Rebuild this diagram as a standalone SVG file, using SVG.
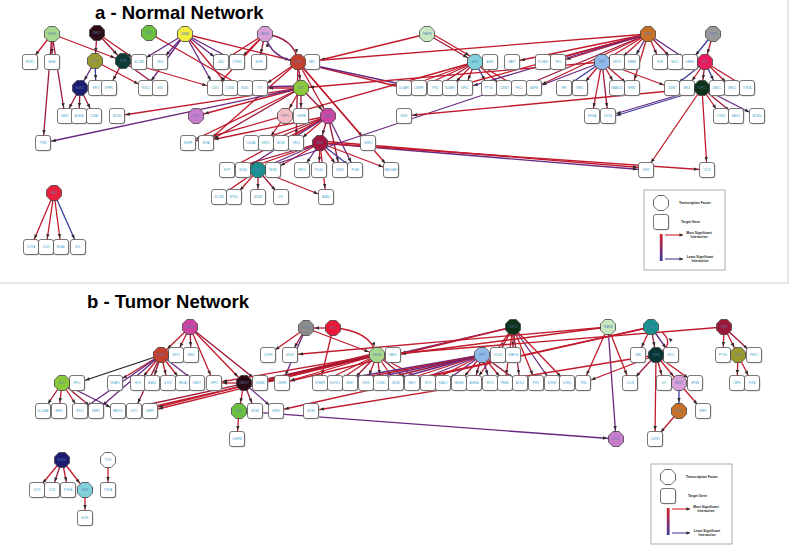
<svg xmlns="http://www.w3.org/2000/svg" xmlns:xlink="http://www.w3.org/1999/xlink" width="792" height="549" viewBox="0 0 792 549">
<defs>
<style>
.title{font-family:"Liberation Sans",Arial,sans-serif;font-weight:bold;font-size:18.5px;fill:#000}
#connectors line,#connectors path{fill:none;stroke-width:1.3;marker-end:url(#ah)}
.r{stroke:#c01a2c}.d{stroke:#9e1636}.p{stroke:#682880}.b{stroke:#3b3d9e}.k{stroke:#1a1a1a}
.gene text{font-family:"Liberation Sans",Arial,sans-serif;font-size:2.6px;text-anchor:middle;fill:#39a0c9}
.tf text{font-family:"Liberation Sans",Arial,sans-serif;font-size:2.6px;text-anchor:middle;fill:#5b7fb5}
.lg{font-family:"Liberation Sans",Arial,sans-serif;font-weight:bold;font-size:3.3px;fill:#222}
.lgc{font-family:"Liberation Sans",Arial,sans-serif;font-weight:bold;font-size:3.3px;fill:#222;text-anchor:middle}
</style>
<marker id="ah" markerUnits="userSpaceOnUse" orient="auto" refX="9" refY="0" markerWidth="10" markerHeight="6" overflow="visible"><path d="M-4,-1.7 L0,0 L-4,1.7 Z" fill="#2a2a2a"/></marker>
<marker id="lah" markerUnits="userSpaceOnUse" orient="auto" refX="0" refY="0" markerWidth="6" markerHeight="6" overflow="visible"><path d="M-3.5,-1.7 L0,0 L-3.5,1.7 Z" fill="#2a2a2a"/></marker>
<polygon id="oc" points="-3.1,-7.5 3.1,-7.5 7.5,-3.1 7.5,3.1 3.1,7.5 -3.1,7.5 -7.5,3.1 -7.5,-3.1" stroke="#444" stroke-width="0.8"/>
<g id="bx"><rect x="-6.7" y="-6.7" width="15" height="15" rx="2.5" fill="#aaa"/><rect x="-7.5" y="-7.5" width="15" height="15" rx="2.5" fill="#fff" stroke="#555" stroke-width="0.8"/></g>
<linearGradient id="grad" x1="0" y1="0" x2="0" y2="1"><stop offset="0" stop-color="#e0202a"/><stop offset="1" stop-color="#3a3aa0"/></linearGradient>
</defs>
<rect width="792" height="549" fill="#fff"/>
<rect x="-1" y="-1" width="789" height="284" fill="none" stroke="#cfcfcf" stroke-width="1"/>
<text class="title" x="95" y="18.5">a - Normal Network</text>
<text class="title" x="87" y="307.5">b - Tumor Network</text>

<g id="connectors">
<g id="edges-a">
<line class="r" x1="52" y1="34" x2="30" y2="62"/>
<line class="d" x1="52" y1="34" x2="52" y2="62"/>
<line class="d" x1="52" y1="34" x2="43" y2="143"/>
<line class="d" x1="52" y1="34" x2="65" y2="116"/>
<line class="r" x1="52" y1="34" x2="123" y2="61"/>
<line class="d" x1="97" y1="33" x2="95" y2="61"/>
<line class="d" x1="97" y1="33" x2="123" y2="61"/>
<line class="r" x1="97" y1="33" x2="139" y2="62"/>
<line class="r" x1="149" y1="33" x2="245" y2="88"/>
<line class="p" x1="185" y1="34" x2="160" y2="62"/>
<line class="p" x1="185" y1="34" x2="139" y2="62"/>
<line class="p" x1="185" y1="34" x2="146" y2="88"/>
<line class="p" x1="185" y1="34" x2="221" y2="62"/>
<line class="p" x1="185" y1="34" x2="215" y2="88"/>
<line class="r" x1="185" y1="34" x2="298" y2="62"/>
<line class="p" x1="185" y1="34" x2="237" y2="62"/>
<line class="r" x1="185" y1="34" x2="230" y2="88"/>
<line class="p" x1="95" y1="61" x2="80" y2="88"/>
<line class="b" x1="95" y1="61" x2="96" y2="88"/>
<line class="r" x1="95" y1="61" x2="146" y2="88"/>
<line class="d" x1="123" y1="61" x2="109" y2="88"/>
<line class="r" x1="123" y1="61" x2="215" y2="88"/>
<line class="d" x1="123" y1="61" x2="160" y2="88"/>
<line class="d" x1="80" y1="88" x2="65" y2="116"/>
<line class="d" x1="80" y1="88" x2="79" y2="116"/>
<line class="d" x1="80" y1="88" x2="94" y2="116"/>
<line class="d" x1="265" y1="34" x2="259" y2="62"/>
<line class="r" x1="265" y1="34" x2="221" y2="62"/>
<line class="r" x1="265" y1="34" x2="237" y2="62"/>
<path class="d" d="M265,34 Q295,38 298,62"/>
<path class="p" d="M298,62 Q270,58 265,34"/>
<line class="r" x1="265" y1="34" x2="215" y2="88"/>
<line class="d" x1="298" y1="62" x2="312" y2="62"/>
<line class="r" x1="298" y1="62" x2="301" y2="88"/>
<line class="r" x1="298" y1="62" x2="328" y2="116"/>
<line class="r" x1="298" y1="62" x2="368" y2="143"/>
<line class="r" x1="298" y1="62" x2="404" y2="88"/>
<line class="p" x1="298" y1="62" x2="419" y2="88"/>
<line class="r" x1="298" y1="62" x2="260" y2="88"/>
<line class="r" x1="298" y1="62" x2="391" y2="170"/>
<line class="r" x1="298" y1="62" x2="206" y2="143"/>
<line class="d" x1="298" y1="62" x2="296" y2="143"/>
<line class="r" x1="301" y1="88" x2="260" y2="88"/>
<line class="p" x1="301" y1="86" x2="245" y2="87"/>
<line class="r" x1="301" y1="88" x2="285" y2="116"/>
<line class="d" x1="301" y1="88" x2="301" y2="116"/>
<line class="r" x1="301" y1="88" x2="196" y2="116"/>
<line class="r" x1="301" y1="88" x2="117" y2="116"/>
<line class="p" x1="301" y1="88" x2="43" y2="143"/>
<line class="r" x1="301" y1="88" x2="188" y2="143"/>
<line class="d" x1="301" y1="88" x2="206" y2="143"/>
<line class="d" x1="301" y1="88" x2="328" y2="116"/>
<line class="r" x1="285" y1="116" x2="266" y2="143"/>
<line class="r" x1="328" y1="116" x2="206" y2="141"/>
<line class="r" x1="328" y1="116" x2="251" y2="143"/>
<line class="d" x1="328" y1="116" x2="266" y2="143"/>
<line class="r" x1="328" y1="116" x2="281" y2="143"/>
<line class="r" x1="328" y1="116" x2="296" y2="143"/>
<line class="d" x1="328" y1="116" x2="320" y2="143"/>
<line class="r" x1="328" y1="116" x2="227" y2="170"/>
<line class="p" x1="328" y1="116" x2="243" y2="170"/>
<line class="p" x1="328" y1="116" x2="355" y2="170"/>
<line class="d" x1="328" y1="116" x2="340" y2="170"/>
<line class="d" x1="320" y1="143" x2="227" y2="170"/>
<line class="r" x1="320" y1="143" x2="243" y2="170"/>
<line class="p" x1="320" y1="143" x2="258" y2="170"/>
<line class="r" x1="320" y1="143" x2="273" y2="170"/>
<line class="p" x1="320" y1="143" x2="302" y2="170"/>
<line class="r" x1="320" y1="143" x2="319" y2="170"/>
<line class="r" x1="320" y1="143" x2="340" y2="170"/>
<line class="b" x1="320" y1="143" x2="355" y2="170"/>
<line class="r" x1="320" y1="143" x2="391" y2="170"/>
<line class="r" x1="320" y1="143" x2="326" y2="197"/>
<line class="p" x1="320" y1="143" x2="646" y2="170"/>
<line class="r" x1="320" y1="141" x2="646" y2="168"/>
<line class="r" x1="320" y1="143" x2="707" y2="170"/>
<line class="r" x1="258" y1="170" x2="219" y2="197"/>
<line class="r" x1="258" y1="170" x2="234" y2="197"/>
<line class="d" x1="258" y1="170" x2="258" y2="197"/>
<line class="d" x1="258" y1="170" x2="281" y2="197"/>
<line class="r" x1="258" y1="170" x2="326" y2="197"/>
<line class="p" x1="258" y1="170" x2="504" y2="88"/>
<line class="r" x1="427" y1="34" x2="312" y2="62"/>
<line class="d" x1="427" y1="34" x2="475" y2="62"/>
<line class="r" x1="429" y1="32" x2="477" y2="60"/>
<line class="r" x1="475" y1="62" x2="404" y2="88"/>
<line class="r" x1="475" y1="62" x2="419" y2="88"/>
<line class="d" x1="475" y1="62" x2="435" y2="88"/>
<line class="r" x1="475" y1="62" x2="450" y2="88"/>
<line class="r" x1="475" y1="62" x2="465" y2="88"/>
<line class="b" x1="475" y1="62" x2="489" y2="88"/>
<line class="r" x1="475" y1="62" x2="504" y2="88"/>
<line class="r" x1="475" y1="62" x2="519" y2="88"/>
<line class="r" x1="475" y1="62" x2="188" y2="143"/>
<line class="r" x1="648" y1="34" x2="558" y2="62"/>
<line class="d" x1="648" y1="34" x2="543" y2="62"/>
<line class="r" x1="648" y1="34" x2="512" y2="62"/>
<line class="r" x1="648" y1="34" x2="602" y2="62"/>
<line class="r" x1="648" y1="34" x2="617" y2="62"/>
<line class="p" x1="648" y1="34" x2="632" y2="62"/>
<line class="r" x1="648" y1="34" x2="660" y2="62"/>
<line class="d" x1="648" y1="34" x2="675" y2="62"/>
<line class="p" x1="648" y1="34" x2="690" y2="62"/>
<line class="r" x1="648" y1="34" x2="632" y2="88"/>
<line class="r" x1="648" y1="34" x2="534" y2="88"/>
<line class="d" x1="648" y1="34" x2="519" y2="88"/>
<line class="r" x1="648" y1="34" x2="450" y2="88"/>
<line class="p" x1="648" y1="34" x2="465" y2="88"/>
<line class="r" x1="648" y1="34" x2="298" y2="62"/>
<line class="r" x1="602" y1="62" x2="617" y2="88"/>
<line class="r" x1="602" y1="62" x2="632" y2="88"/>
<line class="r" x1="602" y1="62" x2="592" y2="116"/>
<line class="d" x1="602" y1="62" x2="608" y2="116"/>
<line class="r" x1="602" y1="62" x2="672" y2="88"/>
<line class="p" x1="602" y1="62" x2="534" y2="88"/>
<line class="b" x1="602" y1="62" x2="564" y2="88"/>
<line class="r" x1="602" y1="62" x2="580" y2="88"/>
<line class="r" x1="602" y1="62" x2="301" y2="88"/>
<line class="r" x1="713" y1="34" x2="705" y2="62"/>
<line class="b" x1="713" y1="34" x2="690" y2="62"/>
<line class="b" x1="705" y1="62" x2="672" y2="88"/>
<line class="r" x1="705" y1="62" x2="687" y2="88"/>
<line class="d" x1="705" y1="62" x2="702" y2="88"/>
<line class="b" x1="705" y1="62" x2="717" y2="88"/>
<line class="r" x1="705" y1="62" x2="732" y2="88"/>
<line class="r" x1="705" y1="62" x2="747" y2="88"/>
<line class="r" x1="702" y1="88" x2="721" y2="116"/>
<line class="d" x1="702" y1="88" x2="736" y2="116"/>
<line class="p" x1="702" y1="88" x2="757" y2="116"/>
<line class="r" x1="702" y1="88" x2="646" y2="170"/>
<line class="r" x1="702" y1="88" x2="707" y2="170"/>
<line class="p" x1="702" y1="88" x2="608" y2="116"/>
<line class="b" x1="700" y1="90" x2="608" y2="118"/>
<line class="r" x1="702" y1="88" x2="404" y2="116"/>
<line class="r" x1="54" y1="193" x2="31" y2="247"/>
<line class="r" x1="54" y1="193" x2="46" y2="247"/>
<line class="r" x1="54" y1="193" x2="61" y2="247"/>
<line class="b" x1="54" y1="193" x2="78" y2="247"/>
</g>
<g id="edges-b">
<line class="r" x1="190" y1="327" x2="161" y2="355"/>
<line class="r" x1="190" y1="327" x2="176" y2="355"/>
<line class="d" x1="190" y1="327" x2="191" y2="355"/>
<line class="r" x1="190" y1="327" x2="244" y2="383"/>
<line class="d" x1="190" y1="327" x2="260" y2="383"/>
<line class="r" x1="190" y1="327" x2="214" y2="383"/>
<line class="k" x1="161" y1="355" x2="77" y2="383"/>
<line class="r" x1="161" y1="355" x2="115" y2="383"/>
<line class="r" x1="161" y1="355" x2="138" y2="383"/>
<line class="d" x1="161" y1="355" x2="152" y2="383"/>
<line class="r" x1="161" y1="355" x2="168" y2="383"/>
<line class="r" x1="161" y1="355" x2="183" y2="383"/>
<line class="p" x1="161" y1="355" x2="197" y2="383"/>
<line class="p" x1="161" y1="355" x2="96" y2="411"/>
<line class="p" x1="161" y1="355" x2="80" y2="411"/>
<line class="d" x1="161" y1="355" x2="134" y2="411"/>
<line class="d" x1="62" y1="383" x2="43" y2="411"/>
<line class="r" x1="62" y1="383" x2="59" y2="411"/>
<line class="r" x1="62" y1="383" x2="80" y2="411"/>
<line class="d" x1="62" y1="383" x2="96" y2="411"/>
<line class="p" x1="62" y1="383" x2="118" y2="411"/>
<line class="r" x1="306" y1="328" x2="268" y2="355"/>
<line class="d" x1="306" y1="328" x2="290" y2="355"/>
<line class="r" x1="306" y1="328" x2="377" y2="355"/>
<line class="p" x1="306" y1="328" x2="282" y2="383"/>
<line class="r" x1="333" y1="328" x2="306" y2="328"/>
<line class="r" x1="333" y1="328" x2="320" y2="383"/>
<path class="r" d="M333,328 Q370,330 377,355"/>
<line class="r" x1="377" y1="355" x2="393" y2="355"/>
<line class="r" x1="377" y1="355" x2="320" y2="383"/>
<line class="r" x1="377" y1="355" x2="335" y2="383"/>
<line class="d" x1="377" y1="355" x2="350" y2="383"/>
<line class="r" x1="377" y1="355" x2="366" y2="383"/>
<line class="r" x1="377" y1="355" x2="381" y2="383"/>
<line class="r" x1="377" y1="355" x2="396" y2="383"/>
<line class="d" x1="377" y1="355" x2="412" y2="383"/>
<line class="r" x1="377" y1="355" x2="428" y2="383"/>
<line class="r" x1="377" y1="355" x2="282" y2="383"/>
<line class="r" x1="377" y1="355" x2="260" y2="383"/>
<line class="r" x1="377" y1="355" x2="214" y2="383"/>
<line class="r" x1="377" y1="355" x2="150" y2="411"/>
<line class="r" x1="376" y1="353" x2="150" y2="409"/>
<line class="r" x1="377" y1="355" x2="134" y2="411"/>
<line class="d" x1="377" y1="355" x2="118" y2="411"/>
<line class="d" x1="244" y1="383" x2="260" y2="383"/>
<line class="r" x1="244" y1="383" x2="239" y2="411"/>
<line class="d" x1="244" y1="383" x2="255" y2="411"/>
<line class="p" x1="244" y1="383" x2="276" y2="411"/>
<line class="r" x1="244" y1="383" x2="214" y2="383"/>
<line class="r" x1="239" y1="411" x2="237" y2="439"/>
<line class="p" x1="239" y1="411" x2="616" y2="439"/>
<line class="r" x1="513" y1="327" x2="498" y2="355"/>
<line class="d" x1="513" y1="327" x2="513" y2="355"/>
<line class="p" x1="513" y1="327" x2="393" y2="355"/>
<line class="r" x1="513" y1="327" x2="474" y2="383"/>
<line class="r" x1="513" y1="327" x2="505" y2="383"/>
<line class="d" x1="513" y1="327" x2="520" y2="383"/>
<line class="r" x1="513" y1="327" x2="536" y2="383"/>
<line class="p" x1="513" y1="327" x2="552" y2="383"/>
<line class="r" x1="513" y1="327" x2="567" y2="383"/>
<line class="r" x1="513" y1="327" x2="282" y2="383"/>
<line class="p" x1="482" y1="355" x2="320" y2="383"/>
<line class="r" x1="482" y1="355" x2="335" y2="383"/>
<line class="p" x1="482" y1="355" x2="350" y2="383"/>
<line class="d" x1="482" y1="355" x2="366" y2="383"/>
<line class="p" x1="482" y1="355" x2="381" y2="383"/>
<line class="r" x1="482" y1="355" x2="396" y2="383"/>
<line class="p" x1="482" y1="355" x2="412" y2="383"/>
<line class="r" x1="482" y1="355" x2="428" y2="383"/>
<line class="p" x1="482" y1="355" x2="443" y2="383"/>
<line class="r" x1="482" y1="355" x2="459" y2="383"/>
<line class="d" x1="482" y1="355" x2="474" y2="383"/>
<line class="p" x1="482" y1="355" x2="490" y2="383"/>
<line class="r" x1="482" y1="355" x2="505" y2="383"/>
<line class="d" x1="482" y1="355" x2="520" y2="383"/>
<line class="r" x1="608" y1="327" x2="630" y2="383"/>
<line class="p" x1="608" y1="327" x2="616" y2="439"/>
<line class="r" x1="608" y1="327" x2="583" y2="383"/>
<line class="r" x1="608" y1="327" x2="393" y2="355"/>
<line class="r" x1="608" y1="327" x2="290" y2="355"/>
<line class="r" x1="651" y1="327" x2="638" y2="355"/>
<line class="d" x1="651" y1="327" x2="656" y2="355"/>
<line class="p" x1="651" y1="327" x2="671" y2="355"/>
<line class="r" x1="651" y1="327" x2="396" y2="383"/>
<line class="r" x1="651" y1="327" x2="276" y2="411"/>
<path class="r" d="M656,355 Q676,345 662,332"/>
<line class="d" x1="656" y1="355" x2="630" y2="383"/>
<line class="r" x1="656" y1="355" x2="664" y2="383"/>
<line class="r" x1="656" y1="355" x2="679" y2="383"/>
<line class="r" x1="656" y1="355" x2="695" y2="383"/>
<line class="r" x1="656" y1="355" x2="655" y2="439"/>
<line class="r" x1="656" y1="355" x2="311" y2="411"/>
<line class="r" x1="656" y1="355" x2="583" y2="383"/>
<line class="b" x1="679" y1="383" x2="679" y2="411"/>
<line class="r" x1="679" y1="383" x2="703" y2="411"/>
<line class="r" x1="679" y1="411" x2="655" y2="439"/>
<line class="r" x1="724" y1="327" x2="723" y2="355"/>
<line class="r" x1="724" y1="327" x2="738" y2="355"/>
<line class="d" x1="724" y1="327" x2="754" y2="355"/>
<line class="r" x1="724" y1="327" x2="377" y2="355"/>
<line class="r" x1="738" y1="355" x2="737" y2="383"/>
<line class="r" x1="738" y1="355" x2="752" y2="383"/>
<line class="r" x1="62" y1="460" x2="37" y2="490"/>
<line class="d" x1="62" y1="460" x2="52" y2="490"/>
<line class="r" x1="62" y1="460" x2="68" y2="490"/>
<line class="r" x1="62" y1="460" x2="85" y2="490"/>
<line class="r" x1="85" y1="490" x2="85" y2="518"/>
<line class="r" x1="108" y1="460" x2="108" y2="490"/>
</g>
</g>

<g id="nodes-a">
<g id="a-g1" class="gene" transform="translate(30,62)"><use href="#bx"/><text y="1">PDZK1</text></g>
<g id="a-g2" class="gene" transform="translate(52,62)"><use href="#bx"/><text y="1">AGR3</text></g>
<g id="a-g3" class="gene" transform="translate(139,62)"><use href="#bx"/><text y="1">SLC7A2</text></g>
<g id="a-g4" class="gene" transform="translate(160,62)"><use href="#bx"/><text y="1">TBX3</text></g>
<g id="a-g5" class="gene" transform="translate(221,62)"><use href="#bx"/><text y="1">CA12</text></g>
<g id="a-g6" class="gene" transform="translate(237,62)"><use href="#bx"/><text y="1">CYP4B1</text></g>
<g id="a-g7" class="gene" transform="translate(259,62)"><use href="#bx"/><text y="1">MLPH</text></g>
<g id="a-g8" class="gene" transform="translate(312,62)"><use href="#bx"/><text y="1">NAT1</text></g>
<g id="a-g9" class="gene" transform="translate(490,62)"><use href="#bx"/><text y="1">AGR2</text></g>
<g id="a-g10" class="gene" transform="translate(512,62)"><use href="#bx"/><text y="1">MAPT</text></g>
<g id="a-g11" class="gene" transform="translate(543,62)"><use href="#bx"/><text y="1">SCUBE2</text></g>
<g id="a-g12" class="gene" transform="translate(558,62)"><use href="#bx"/><text y="1">TFF1</text></g>
<g id="a-g13" class="gene" transform="translate(617,62)"><use href="#bx"/><text y="1">KRT18</text></g>
<g id="a-g14" class="gene" transform="translate(632,62)"><use href="#bx"/><text y="1">ERBB4</text></g>
<g id="a-g15" class="gene" transform="translate(660,62)"><use href="#bx"/><text y="1">PGR</text></g>
<g id="a-g16" class="gene" transform="translate(675,62)"><use href="#bx"/><text y="1">MUC1</text></g>
<g id="a-g17" class="gene" transform="translate(690,62)"><use href="#bx"/><text y="1">GREB1</text></g>
<g id="a-g18" class="gene" transform="translate(96,88)"><use href="#bx"/><text y="1">KRT5</text></g>
<g id="a-g19" class="gene" transform="translate(109,88)"><use href="#bx"/><text y="1">SFRP1</text></g>
<g id="a-g20" class="gene" transform="translate(146,88)"><use href="#bx"/><text y="1">FOXC1</text></g>
<g id="a-g21" class="gene" transform="translate(160,88)"><use href="#bx"/><text y="1">EN1</text></g>
<g id="a-g22" class="gene" transform="translate(215,88)"><use href="#bx"/><text y="1">CDK1</text></g>
<g id="a-g23" class="gene" transform="translate(230,88)"><use href="#bx"/><text y="1">CCNB2</text></g>
<g id="a-g24" class="gene" transform="translate(245,88)"><use href="#bx"/><text y="1">BUB1</text></g>
<g id="a-g25" class="gene" transform="translate(260,88)"><use href="#bx"/><text y="1">TTK</text></g>
<g id="a-g26" class="gene" transform="translate(404,88)"><use href="#bx"/><text y="1">DLGAP5</text></g>
<g id="a-g27" class="gene" transform="translate(419,88)"><use href="#bx"/><text y="1">CENPF</text></g>
<g id="a-g28" class="gene" transform="translate(435,88)"><use href="#bx"/><text y="1">TPX2</text></g>
<g id="a-g29" class="gene" transform="translate(450,88)"><use href="#bx"/><text y="1">NUSAP1</text></g>
<g id="a-g30" class="gene" transform="translate(465,88)"><use href="#bx"/><text y="1">KIF2C</text></g>
<g id="a-g31" class="gene" transform="translate(489,88)"><use href="#bx"/><text y="1">PTTG1</text></g>
<g id="a-g32" class="gene" transform="translate(504,88)"><use href="#bx"/><text y="1">CDKN3</text></g>
<g id="a-g33" class="gene" transform="translate(519,88)"><use href="#bx"/><text y="1">PRC1</text></g>
<g id="a-g34" class="gene" transform="translate(534,88)"><use href="#bx"/><text y="1">ASPM</text></g>
<g id="a-g35" class="gene" transform="translate(564,88)"><use href="#bx"/><text y="1">PBK</text></g>
<g id="a-g36" class="gene" transform="translate(580,88)"><use href="#bx"/><text y="1">NEK2</text></g>
<g id="a-g37" class="gene" transform="translate(617,88)"><use href="#bx"/><text y="1">KIAA0101</text></g>
<g id="a-g38" class="gene" transform="translate(632,88)"><use href="#bx"/><text y="1">RRM2</text></g>
<g id="a-g39" class="gene" transform="translate(672,88)"><use href="#bx"/><text y="1">ZWINT</text></g>
<g id="a-g40" class="gene" transform="translate(687,88)"><use href="#bx"/><text y="1">MELK</text></g>
<g id="a-g41" class="gene" transform="translate(717,88)"><use href="#bx"/><text y="1">UBE2C</text></g>
<g id="a-g42" class="gene" transform="translate(732,88)"><use href="#bx"/><text y="1">BIRC5</text></g>
<g id="a-g43" class="gene" transform="translate(747,88)"><use href="#bx"/><text y="1">TOP2A</text></g>
<g id="a-g44" class="gene" transform="translate(65,116)"><use href="#bx"/><text y="1">MKI67</text></g>
<g id="a-g45" class="gene" transform="translate(79,116)"><use href="#bx"/><text y="1">AURKA</text></g>
<g id="a-g46" class="gene" transform="translate(94,116)"><use href="#bx"/><text y="1">CCNA2</text></g>
<g id="a-g47" class="gene" transform="translate(117,116)"><use href="#bx"/><text y="1">NDC80</text></g>
<g id="a-g48" class="gene" transform="translate(301,116)"><use href="#bx"/><text y="1">CENPA</text></g>
<g id="a-g49" class="gene" transform="translate(404,116)"><use href="#bx"/><text y="1">EZH2</text></g>
<g id="a-g50" class="gene" transform="translate(592,116)"><use href="#bx"/><text y="1">KIF20A</text></g>
<g id="a-g51" class="gene" transform="translate(608,116)"><use href="#bx"/><text y="1">CDC20</text></g>
<g id="a-g52" class="gene" transform="translate(721,116)"><use href="#bx"/><text y="1">CCNE2</text></g>
<g id="a-g53" class="gene" transform="translate(736,116)"><use href="#bx"/><text y="1">RAD51</text></g>
<g id="a-g54" class="gene" transform="translate(757,116)"><use href="#bx"/><text y="1">MCM10</text></g>
<g id="a-g55" class="gene" transform="translate(43,143)"><use href="#bx"/><text y="1">TYMS</text></g>
<g id="a-g56" class="gene" transform="translate(188,143)"><use href="#bx"/><text y="1">HJURP</text></g>
<g id="a-g57" class="gene" transform="translate(206,143)"><use href="#bx"/><text y="1">KIF4A</text></g>
<g id="a-g58" class="gene" transform="translate(251,143)"><use href="#bx"/><text y="1">CDCA8</text></g>
<g id="a-g59" class="gene" transform="translate(266,143)"><use href="#bx"/><text y="1">ESPL1</text></g>
<g id="a-g60" class="gene" transform="translate(281,143)"><use href="#bx"/><text y="1">MCM2</text></g>
<g id="a-g61" class="gene" transform="translate(296,143)"><use href="#bx"/><text y="1">ORC6</text></g>
<g id="a-g62" class="gene" transform="translate(368,143)"><use href="#bx"/><text y="1">CHEK1</text></g>
<g id="a-g63" class="gene" transform="translate(227,170)"><use href="#bx"/><text y="1">HLTF</text></g>
<g id="a-g64" class="gene" transform="translate(243,170)"><use href="#bx"/><text y="1">MCM4</text></g>
<g id="a-g65" class="gene" transform="translate(273,170)"><use href="#bx"/><text y="1">MCM6</text></g>
<g id="a-g66" class="gene" transform="translate(302,170)"><use href="#bx"/><text y="1">RFC4</text></g>
<g id="a-g67" class="gene" transform="translate(319,170)"><use href="#bx"/><text y="1">POLE2</text></g>
<g id="a-g68" class="gene" transform="translate(340,170)"><use href="#bx"/><text y="1">GINS2</text></g>
<g id="a-g69" class="gene" transform="translate(355,170)"><use href="#bx"/><text y="1">PCNA</text></g>
<g id="a-g70" class="gene" transform="translate(391,170)"><use href="#bx"/><text y="1">RAD51AP1</text></g>
<g id="a-g71" class="gene" transform="translate(646,170)"><use href="#bx"/><text y="1">E2F8</text></g>
<g id="a-g72" class="gene" transform="translate(707,170)"><use href="#bx"/><text y="1">CDC6</text></g>
<g id="a-g73" class="gene" transform="translate(219,197)"><use href="#bx"/><text y="1">SLC2A1</text></g>
<g id="a-g74" class="gene" transform="translate(234,197)"><use href="#bx"/><text y="1">MYBL1</text></g>
<g id="a-g75" class="gene" transform="translate(258,197)"><use href="#bx"/><text y="1">MCM3</text></g>
<g id="a-g76" class="gene" transform="translate(281,197)"><use href="#bx"/><text y="1">DTL</text></g>
<g id="a-g77" class="gene" transform="translate(326,197)"><use href="#bx"/><text y="1">ATAD2</text></g>
<g id="a-g78" class="gene" transform="translate(31,247)"><use href="#bx"/><text y="1">CD79A</text></g>
<g id="a-g79" class="gene" transform="translate(46,247)"><use href="#bx"/><text y="1">CD19</text></g>
<g id="a-g80" class="gene" transform="translate(61,247)"><use href="#bx"/><text y="1">MS4A1</text></g>
<g id="a-g81" class="gene" transform="translate(78,247)"><use href="#bx"/><text y="1">BLK</text></g>
<g id="a-tf1" class="tf" transform="translate(52,34)"><use href="#oc" fill="#a8d890"/><text y="1">HNF1B</text></g>
<g id="a-tf2" class="tf" transform="translate(97,33)"><use href="#oc" fill="#2a0a14"/><text y="1">ZNF217</text></g>
<g id="a-tf3" class="tf" transform="translate(149,33)"><use href="#oc" fill="#6cc040"/><text y="1">MYB</text></g>
<g id="a-tf4" class="tf" transform="translate(185,34)"><use href="#oc" fill="#f2ee40"/><text y="1">GATA3</text></g>
<g id="a-tf5" class="tf" transform="translate(265,34)"><use href="#oc" fill="#d8a0d8"/><text y="1">NR2F1</text></g>
<g id="a-tf6" class="tf" transform="translate(427,34)"><use href="#oc" fill="#c8e8c4"/><text y="1">TFAP2B</text></g>
<g id="a-tf7" class="tf" transform="translate(648,34)"><use href="#oc" fill="#c87028"/><text y="1">ESR1</text></g>
<g id="a-tf8" class="tf" transform="translate(713,34)"><use href="#oc" fill="#999999"/><text y="1">FOXP1</text></g>
<g id="a-tf9" class="tf" transform="translate(95,61)"><use href="#oc" fill="#9a9a30"/><text y="1">SOX9</text></g>
<g id="a-tf10" class="tf" transform="translate(123,61)"><use href="#oc" fill="#0e3b35"/><text y="1">ETV6</text></g>
<g id="a-tf11" class="tf" transform="translate(298,62)"><use href="#oc" fill="#c4402c"/><text y="1">FOXM1</text></g>
<g id="a-tf12" class="tf" transform="translate(475,62)"><use href="#oc" fill="#80d0dc"/><text y="1">ELF5</text></g>
<g id="a-tf13" class="tf" transform="translate(602,62)"><use href="#oc" fill="#90b8e8"/><text y="1">XBP1</text></g>
<g id="a-tf14" class="tf" transform="translate(705,62)"><use href="#oc" fill="#e81c5c"/><text y="1">MYC</text></g>
<g id="a-tf15" class="tf" transform="translate(80,88)"><use href="#oc" fill="#1c1c70"/><text y="1">RUNX1</text></g>
<g id="a-tf16" class="tf" transform="translate(301,88)"><use href="#oc" fill="#8cc83c"/><text y="1">E2F1</text></g>
<g id="a-tf17" class="tf" transform="translate(702,88)"><use href="#oc" fill="#0c3018"/><text y="1">TCF7L1</text></g>
<g id="a-tf18" class="tf" transform="translate(196,116)"><use href="#oc" fill="#c87ccc"/><text y="1">ETS1</text></g>
<g id="a-tf19" class="tf" transform="translate(285,116)"><use href="#oc" fill="#f4bcc4"/><text y="1">TFDP1</text></g>
<g id="a-tf20" class="tf" transform="translate(328,116)"><use href="#oc" fill="#cc44a0"/><text y="1">HMGA1</text></g>
<g id="a-tf21" class="tf" transform="translate(320,143)"><use href="#oc" fill="#a01840"/><text y="1">E2F3</text></g>
<g id="a-tf22" class="tf" transform="translate(258,170)"><use href="#oc" fill="#1a9090"/><text y="1">MYBL2</text></g>
<g id="a-tf23" class="tf" transform="translate(54,193)"><use href="#oc" fill="#e8203c"/><text y="1">PAX5</text></g>
</g>

<g id="nodes-b">
<g id="b-g1" class="gene" transform="translate(176,355)"><use href="#bx"/><text y="1">KIF14</text></g>
<g id="b-g2" class="gene" transform="translate(191,355)"><use href="#bx"/><text y="1">NEK2</text></g>
<g id="b-g3" class="gene" transform="translate(268,355)"><use href="#bx"/><text y="1">CLSPN</text></g>
<g id="b-g4" class="gene" transform="translate(290,355)"><use href="#bx"/><text y="1">MCM7</text></g>
<g id="b-g5" class="gene" transform="translate(393,355)"><use href="#bx"/><text y="1">FANCI</text></g>
<g id="b-g6" class="gene" transform="translate(498,355)"><use href="#bx"/><text y="1">CDC45</text></g>
<g id="b-g7" class="gene" transform="translate(513,355)"><use href="#bx"/><text y="1">CHAF1B</text></g>
<g id="b-g8" class="gene" transform="translate(638,355)"><use href="#bx"/><text y="1">NBN</text></g>
<g id="b-g9" class="gene" transform="translate(671,355)"><use href="#bx"/><text y="1">EXO1</text></g>
<g id="b-g10" class="gene" transform="translate(723,355)"><use href="#bx"/><text y="1">PTTG1</text></g>
<g id="b-g11" class="gene" transform="translate(754,355)"><use href="#bx"/><text y="1">PSRC1</text></g>
<g id="b-g12" class="gene" transform="translate(77,383)"><use href="#bx"/><text y="1">PRC1</text></g>
<g id="b-g13" class="gene" transform="translate(115,383)"><use href="#bx"/><text y="1">NCAPG</text></g>
<g id="b-g14" class="gene" transform="translate(138,383)"><use href="#bx"/><text y="1">HLTF</text></g>
<g id="b-g15" class="gene" transform="translate(152,383)"><use href="#bx"/><text y="1">ATAD2</text></g>
<g id="b-g16" class="gene" transform="translate(168,383)"><use href="#bx"/><text y="1">SOX11</text></g>
<g id="b-g17" class="gene" transform="translate(183,383)"><use href="#bx"/><text y="1">BRCA1</text></g>
<g id="b-g18" class="gene" transform="translate(197,383)"><use href="#bx"/><text y="1">UBE2T</text></g>
<g id="b-g19" class="gene" transform="translate(214,383)"><use href="#bx"/><text y="1">DPF2</text></g>
<g id="b-g20" class="gene" transform="translate(260,383)"><use href="#bx"/><text y="1">KDM5B</text></g>
<g id="b-g21" class="gene" transform="translate(282,383)"><use href="#bx"/><text y="1">CENPE</text></g>
<g id="b-g22" class="gene" transform="translate(320,383)"><use href="#bx"/><text y="1">HOMER</text></g>
<g id="b-g23" class="gene" transform="translate(335,383)"><use href="#bx"/><text y="1">ELOVL5</text></g>
<g id="b-g24" class="gene" transform="translate(350,383)"><use href="#bx"/><text y="1">MKI67</text></g>
<g id="b-g25" class="gene" transform="translate(366,383)"><use href="#bx"/><text y="1">KIF18</text></g>
<g id="b-g26" class="gene" transform="translate(381,383)"><use href="#bx"/><text y="1">CCNE1</text></g>
<g id="b-g27" class="gene" transform="translate(396,383)"><use href="#bx"/><text y="1">MCM2</text></g>
<g id="b-g28" class="gene" transform="translate(412,383)"><use href="#bx"/><text y="1">MELK</text></g>
<g id="b-g29" class="gene" transform="translate(428,383)"><use href="#bx"/><text y="1">KIF11</text></g>
<g id="b-g30" class="gene" transform="translate(443,383)"><use href="#bx"/><text y="1">HDAC2</text></g>
<g id="b-g31" class="gene" transform="translate(459,383)"><use href="#bx"/><text y="1">HMGB3</text></g>
<g id="b-g32" class="gene" transform="translate(474,383)"><use href="#bx"/><text y="1">AURKA</text></g>
<g id="b-g33" class="gene" transform="translate(490,383)"><use href="#bx"/><text y="1">RFC3</text></g>
<g id="b-g34" class="gene" transform="translate(505,383)"><use href="#bx"/><text y="1">PRIM1</text></g>
<g id="b-g35" class="gene" transform="translate(520,383)"><use href="#bx"/><text y="1">ACSL3</text></g>
<g id="b-g36" class="gene" transform="translate(536,383)"><use href="#bx"/><text y="1">PTK7</text></g>
<g id="b-g37" class="gene" transform="translate(552,383)"><use href="#bx"/><text y="1">ECHS1</text></g>
<g id="b-g38" class="gene" transform="translate(567,383)"><use href="#bx"/><text y="1">KCNK5</text></g>
<g id="b-g39" class="gene" transform="translate(583,383)"><use href="#bx"/><text y="1">TSN2</text></g>
<g id="b-g40" class="gene" transform="translate(630,383)"><use href="#bx"/><text y="1">CLCN</text></g>
<g id="b-g41" class="gene" transform="translate(664,383)"><use href="#bx"/><text y="1">ILF</text></g>
<g id="b-g42" class="gene" transform="translate(695,383)"><use href="#bx"/><text y="1">BPGM</text></g>
<g id="b-g43" class="gene" transform="translate(737,383)"><use href="#bx"/><text y="1">CMPK</text></g>
<g id="b-g44" class="gene" transform="translate(752,383)"><use href="#bx"/><text y="1">FOSB</text></g>
<g id="b-g45" class="gene" transform="translate(43,411)"><use href="#bx"/><text y="1">SLC26A3</text></g>
<g id="b-g46" class="gene" transform="translate(59,411)"><use href="#bx"/><text y="1">MSH2</text></g>
<g id="b-g47" class="gene" transform="translate(80,411)"><use href="#bx"/><text y="1">EXO1</text></g>
<g id="b-g48" class="gene" transform="translate(96,411)"><use href="#bx"/><text y="1">MMP1</text></g>
<g id="b-g49" class="gene" transform="translate(118,411)"><use href="#bx"/><text y="1">RAD51C</text></g>
<g id="b-g50" class="gene" transform="translate(134,411)"><use href="#bx"/><text y="1">CDT1</text></g>
<g id="b-g51" class="gene" transform="translate(150,411)"><use href="#bx"/><text y="1">MMP9</text></g>
<g id="b-g52" class="gene" transform="translate(255,411)"><use href="#bx"/><text y="1">MCM3</text></g>
<g id="b-g53" class="gene" transform="translate(276,411)"><use href="#bx"/><text y="1">GINS1</text></g>
<g id="b-g54" class="gene" transform="translate(311,411)"><use href="#bx"/><text y="1">MCM5</text></g>
<g id="b-g55" class="gene" transform="translate(703,411)"><use href="#bx"/><text y="1">RNF2</text></g>
<g id="b-g56" class="gene" transform="translate(237,439)"><use href="#bx"/><text y="1">CENPM</text></g>
<g id="b-g57" class="gene" transform="translate(655,439)"><use href="#bx"/><text y="1">CDKN3</text></g>
<g id="b-g58" class="gene" transform="translate(37,490)"><use href="#bx"/><text y="1">CD19</text></g>
<g id="b-g59" class="gene" transform="translate(52,490)"><use href="#bx"/><text y="1">CD22</text></g>
<g id="b-g60" class="gene" transform="translate(68,490)"><use href="#bx"/><text y="1">FCRLA</text></g>
<g id="b-g61" class="gene" transform="translate(108,490)"><use href="#bx"/><text y="1">TOP2A</text></g>
<g id="b-g62" class="gene" transform="translate(85,518)"><use href="#bx"/><text y="1">BLNK</text></g>
<g id="b-tf1" class="tf" transform="translate(190,327)"><use href="#oc" fill="#cc44a0"/><text y="1">HMGA1</text></g>
<g id="b-tf2" class="tf" transform="translate(306,328)"><use href="#oc" fill="#8c8c8c"/><text y="1">FOXP1</text></g>
<g id="b-tf3" class="tf" transform="translate(333,328)"><use href="#oc" fill="#e81838"/><text y="1">MYC</text></g>
<g id="b-tf4" class="tf" transform="translate(513,327)"><use href="#oc" fill="#0c3018"/><text y="1">TCF7L1</text></g>
<g id="b-tf5" class="tf" transform="translate(608,327)"><use href="#oc" fill="#c8e8c0"/><text y="1">TFAP2B</text></g>
<g id="b-tf6" class="tf" transform="translate(651,327)"><use href="#oc" fill="#1a9090"/><text y="1">MYBL2</text></g>
<g id="b-tf7" class="tf" transform="translate(724,327)"><use href="#oc" fill="#9c1838"/><text y="1">E2F3</text></g>
<g id="b-tf8" class="tf" transform="translate(161,355)"><use href="#oc" fill="#c4402c"/><text y="1">FOXM1</text></g>
<g id="b-tf9" class="tf" transform="translate(377,355)"><use href="#oc" fill="#a8d890"/><text y="1">HNF1B</text></g>
<g id="b-tf10" class="tf" transform="translate(482,355)"><use href="#oc" fill="#90b8e8"/><text y="1">XBP1</text></g>
<g id="b-tf11" class="tf" transform="translate(656,355)"><use href="#oc" fill="#0a3535"/><text y="1">ETV6</text></g>
<g id="b-tf12" class="tf" transform="translate(738,355)"><use href="#oc" fill="#9a9a30"/><text y="1">SOX9</text></g>
<g id="b-tf13" class="tf" transform="translate(62,383)"><use href="#oc" fill="#8cc83c"/><text y="1">E2F1</text></g>
<g id="b-tf14" class="tf" transform="translate(244,383)"><use href="#oc" fill="#2a0a14"/><text y="1">ZNF217</text></g>
<g id="b-tf15" class="tf" transform="translate(679,383)"><use href="#oc" fill="#d8a0d8"/><text y="1">NR2F1</text></g>
<g id="b-tf16" class="tf" transform="translate(239,411)"><use href="#oc" fill="#6cc040"/><text y="1">MYB</text></g>
<g id="b-tf17" class="tf" transform="translate(679,411)"><use href="#oc" fill="#c87028"/><text y="1">ESR1</text></g>
<g id="b-tf18" class="tf" transform="translate(616,439)"><use href="#oc" fill="#c87ccc"/><text y="1">ETS1</text></g>
<g id="b-tf19" class="tf" transform="translate(62,460)"><use href="#oc" fill="#1c1c70"/><text y="1">RUNX1</text></g>
<g id="b-tf20" class="tf" transform="translate(108,460)"><use href="#oc" fill="#ffffff"/><text y="1">TCF4</text></g>
<g id="b-tf21" class="tf" transform="translate(85,490)"><use href="#oc" fill="#80d0dc"/><text y="1">ELF5</text></g>
</g>

<g id="legend-a">
<rect x="644" y="190" width="81" height="80" fill="#fff" stroke="#999" stroke-width="0.8"/>
<use href="#oc" x="661" y="203" fill="#fff"/>
<text class="lg" x="679" y="204.2">Transcription Factor</text>
<use href="#bx" x="661" y="222"/>
<text class="lg" x="681" y="223.2">Target Gene</text>
<rect x="659.8" y="234" width="2.8" height="27" fill="url(#grad)"/>
<line x1="665" y1="235" x2="683" y2="235" stroke="#d0202a" stroke-width="1.1" marker-end="url(#lah)"/>
<text class="lgc" x="699" y="234">Most Significant</text>
<text class="lgc" x="699" y="238.3">Interaction</text>
<line x1="665" y1="259" x2="683" y2="259" stroke="#4a3c9a" stroke-width="1.1" marker-end="url(#lah)"/>
<text class="lgc" x="700" y="258">Least Significant</text>
<text class="lgc" x="700" y="262.3">Interaction</text>
</g>
<g id="legend-b">
<rect x="651" y="464" width="81" height="80" fill="#fff" stroke="#999" stroke-width="0.8"/>
<use href="#oc" x="668" y="477" fill="#fff"/>
<text class="lg" x="686" y="478.2">Transcription Factor</text>
<use href="#bx" x="668" y="496"/>
<text class="lg" x="688" y="497.2">Target Gene</text>
<rect x="666.8" y="508" width="2.8" height="27" fill="url(#grad)"/>
<line x1="672" y1="509" x2="690" y2="509" stroke="#d0202a" stroke-width="1.1" marker-end="url(#lah)"/>
<text class="lgc" x="706" y="508">Most Significant</text>
<text class="lgc" x="706" y="512.3">Interaction</text>
<line x1="672" y1="533" x2="690" y2="533" stroke="#4a3c9a" stroke-width="1.1" marker-end="url(#lah)"/>
<text class="lgc" x="707" y="532">Least Significant</text>
<text class="lgc" x="707" y="536.3">Interaction</text>
</g>
</svg>
